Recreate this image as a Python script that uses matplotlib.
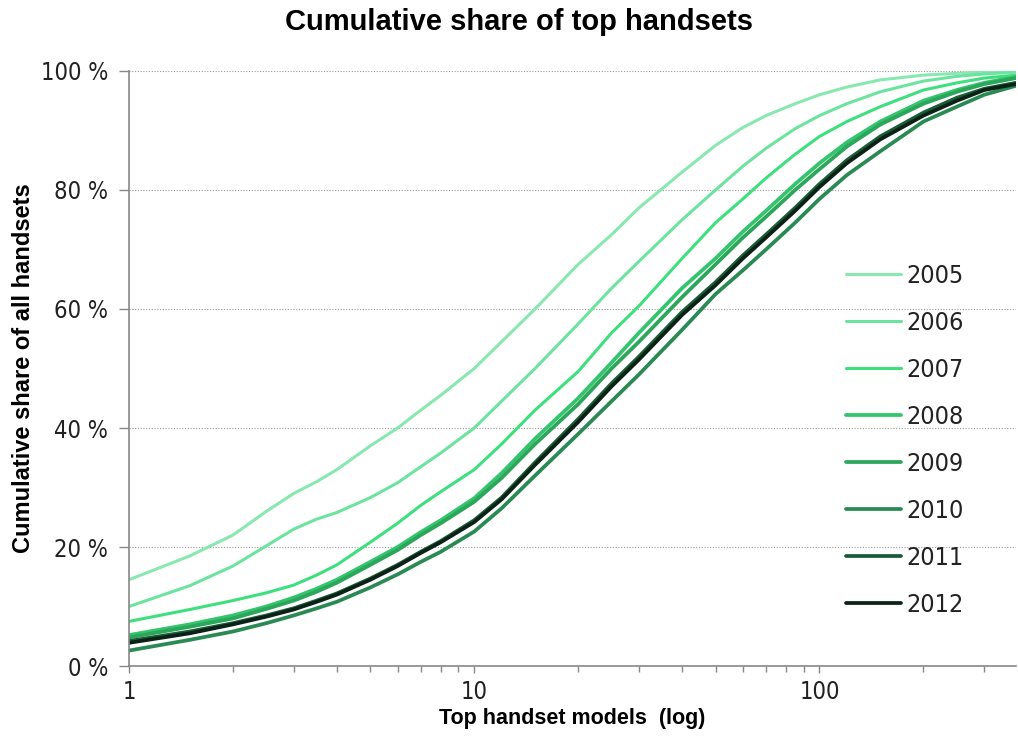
import matplotlib
matplotlib.use("Agg")
import matplotlib.pyplot as plt
from matplotlib.font_manager import FontProperties
from matplotlib.ticker import FixedLocator, LogLocator, NullFormatter

# top N handset models
models = [1, 1.5, 2, 2.5, 3, 3.5, 4, 5, 6, 7, 8, 10, 12, 15, 20, 25, 30, 40,
          50, 60, 70, 85, 100, 120, 150, 200, 250, 300, 370]

# cumulative share (%) per year
share_2005 = [14.5, 18.5, 22, 26, 29, 31, 33, 37, 40, 43, 45.5, 50, 54.5, 60, 67.5, 72.5, 77, 83,
              87.5, 90.5, 92.5, 94.5, 96, 97.3, 98.5, 99.3, 99.6, 99.8, 100]
share_2006 = [10, 13.5, 16.8, 20.2, 23, 24.7, 25.8, 28.3, 30.8, 33.5, 35.8, 40, 44.5, 50, 57.5, 63.5, 68, 75,
              80, 84, 87, 90.3, 92.5, 94.5, 96.5, 98.3, 99.1, 99.5, 99.8]
share_2007 = [7.5, 9.5, 11, 12.3, 13.6, 15.3, 17, 20.8, 24, 27, 29.3, 33, 37.3, 43, 49.5, 56, 60.5, 68.5,
              74.5, 78.5, 82, 86, 89, 91.5, 94, 96.8, 98, 98.8, 99.3]
share_2008 = [5.2, 7, 8.5, 10, 11.5, 13, 14.5, 17.5, 20, 22.5, 24.5, 28.2, 32.4, 38.2, 45, 51, 56, 63.5,
              68.5, 73, 76.5, 81, 84.5, 88, 91.5, 95, 96.8, 98, 99]
share_2009 = [4.8, 6.6, 8, 9.6, 11, 12.5, 14, 17, 19.5, 22, 24, 27.6, 31.6, 37.3, 44, 50, 54.5, 62,
              67.5, 72, 75.5, 80, 83.5, 87.3, 91, 94.5, 96.5, 97.8, 98.8]
share_2010 = [2.6, 4.4, 5.8, 7.2, 8.5, 9.7, 10.8, 13.2, 15.4, 17.5, 19.2, 22.6, 26.5, 32, 39, 44.5, 49, 56.5,
              62.5, 66.5, 70, 74.5, 78.5, 82.5, 86.5, 91.5, 94, 96, 97.5]
share_2011 = [4.2, 5.8, 7.2, 8.5, 9.7, 11, 12.2, 14.7, 17, 19.2, 21, 24.5, 28.3, 34.2, 41.5, 47.5, 52, 59.5,
              64.5, 69, 72.5, 77, 81, 85, 89, 93, 95.5, 97, 98]
share_2012 = [3.9, 5.5, 7, 8.3, 9.5, 10.8, 12, 14.5, 16.8, 19, 20.8, 24.2, 28, 33.8, 41, 47, 51.5, 59,
              64, 68.5, 72, 76.5, 80.5, 84.5, 88.5, 92.5, 95, 96.8, 97.8]

years = ["2005", "2006", "2007", "2008", "2009", "2010", "2011", "2012"]
series = [share_2005, share_2006, share_2007, share_2008,
          share_2009, share_2010, share_2011, share_2012]
colors = ["#88e8b0", "#6de3a0", "#3ee07e", "#33c46d",
          "#2ba65a", "#2a8a53", "#1b5b38", "#0b2216"]
widths = [2.2, 2.2, 2.2, 2.7, 2.7, 2.7, 2.7, 2.7]

bold = "Liberation Sans"
narrow = FontProperties(family="DejaVu Sans", stretch="condensed", size=17)
narrow_leg = FontProperties(family="DejaVu Sans", stretch="condensed", size=18)

fig = plt.figure(figsize=(10.18, 7.44), dpi=100)
ax = fig.add_axes([0.1267, 0.1048, 0.871, 0.7998])

for yr, vals, c, lw in zip(years, series, colors, widths):
    ax.plot(models, vals, color=c, lw=lw, label=yr, solid_capstyle="round")

ax.set_xscale("log")
ax.set_xlim(1, 370)
ax.set_ylim(0, 100)

ax.xaxis.set_major_locator(FixedLocator([1, 10, 100]))
ax.set_xticklabels(["1", "10", "100"])
ax.xaxis.set_minor_locator(LogLocator(base=10, subs=range(2, 10)))
ax.xaxis.set_minor_formatter(NullFormatter())

yt = [0, 20, 40, 60, 80, 100]
ax.set_yticks(yt)
ax.set_yticklabels([f"{v} %" for v in yt])

for lab in ax.get_xticklabels() + ax.get_yticklabels():
    lab.set_fontproperties(narrow)
    lab.set_color("#222222")

ax.tick_params(axis="y", which="major", length=7, width=1, color="#888888", pad=8)
ax.tick_params(axis="x", which="major", length=5, width=1, color="#888888", pad=5)
ax.tick_params(axis="x", which="minor", length=4, width=1, color="#888888")

for s in ["top", "right"]:
    ax.spines[s].set_visible(False)
for s in ["left", "bottom"]:
    ax.spines[s].set_color("#888888")
    ax.spines[s].set_linewidth(1.2)

ax.grid(axis="y", which="major", linestyle=(0, (1, 1.5)), color="#999999", lw=0.8)
ax.set_axisbelow(True)

ax.set_xlabel("Top handset models  (log)", fontfamily=bold, fontweight="bold",
              fontsize=15.5, labelpad=3)
ax.set_ylabel("Cumulative share of all handsets", fontfamily=bold, fontweight="bold",
              fontsize=17, labelpad=4)
fig.text(0.51, 0.97, "Cumulative share of top handsets", ha="center", va="center",
         fontfamily=bold, fontweight="bold", fontsize=21)

leg = ax.legend(loc="upper left", bbox_to_anchor=(0.809, 0.676), bbox_transform=fig.transFigure,
                frameon=False, handlelength=2.2, handletextpad=0.2, labelspacing=0.92,
                prop=narrow_leg)
for t in leg.get_texts():
    t.set_color("#222222")

fig.savefig("out.png", dpi=100)
